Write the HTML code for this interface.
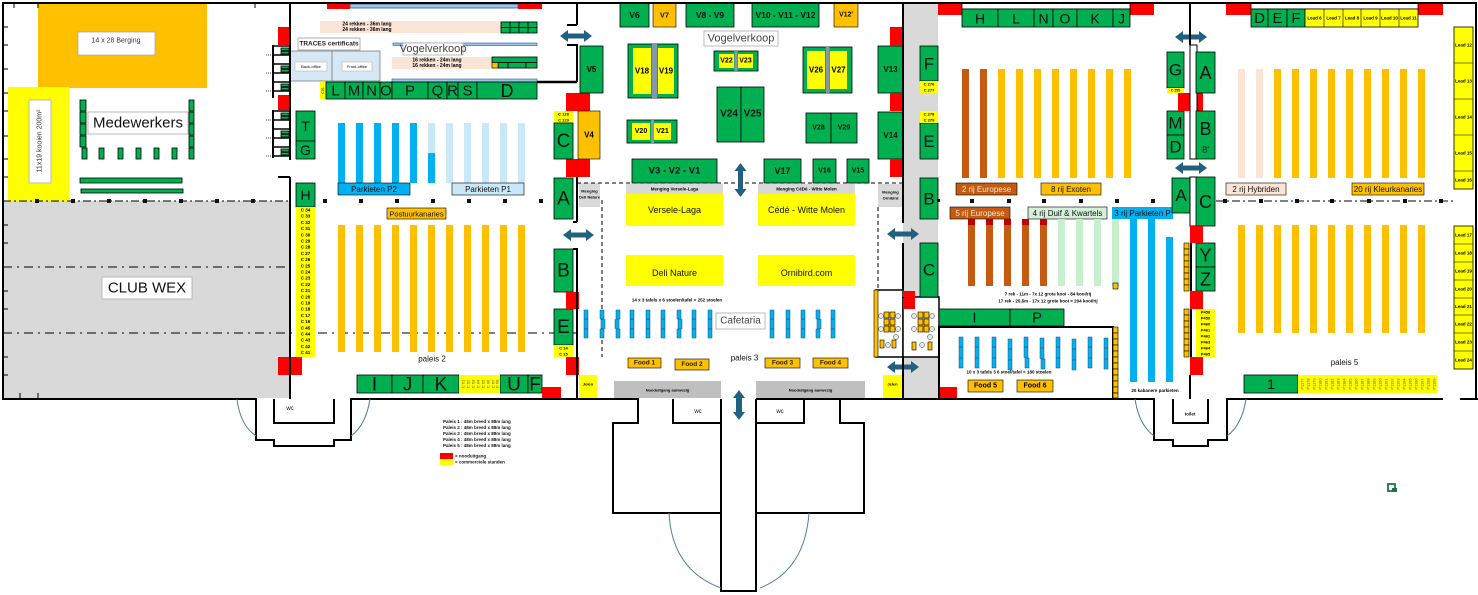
<!DOCTYPE html>
<html><head><meta charset="utf-8"><style>
html,body{margin:0;padding:0;background:#fff;}
svg{display:block;font-family:"Liberation Sans",sans-serif;}
.g{fill:#00b050;stroke:#000;stroke-width:0.8}
.o{fill:#ffc000;stroke:#000;stroke-width:0.6}
.oo{fill:#ffc000}
.y{fill:#ffff00}
.r{fill:#ff0000}
.gr{fill:#d9d9d9}
.t{text-anchor:middle;dominant-baseline:central}
.w{stroke:#000;stroke-width:2;fill:none}
.ar{fill:#22607f}
.tb{fill:#00b0f0;stroke:#1f4e79;stroke-width:0.5}
.lb{fill:#fff;stroke:#aaa;stroke-width:0.8}
</style></head><body>
<svg width="1478" height="595" viewBox="0 0 1478 595">
<!-- ===== PALAIS 1 ===== -->
<rect x="38" y="3" width="169" height="85" class="oo"/>
<rect x="78" y="32" width="77" height="23" class="lb"/>
<text x="116" y="41" font-size="7" class="t" fill="#333">14 x 28 Berging</text>
<rect x="8" y="87" width="61" height="114" class="y"/>
<rect x="29" y="100" width="22" height="83" class="lb"/>
<text transform="translate(40,141) rotate(-90)" font-size="7" class="t" fill="#333">11x19  kooien 200m²</text>
<rect x="88" y="112" width="100" height="22" class="lb"/>
<text x="138" y="123" font-size="15" class="t" fill="#111">Medewerkers</text>
<g class="g">
<rect x="80" y="100" width="6" height="11"/><rect x="80" y="112" width="6" height="11"/><rect x="80" y="124" width="6" height="11"/><rect x="80" y="136" width="6" height="11"/>
<rect x="189" y="100" width="5" height="11"/><rect x="189" y="112" width="5" height="11"/><rect x="189" y="124" width="5" height="11"/><rect x="189" y="136" width="5" height="11"/><rect x="189" y="148" width="5" height="11"/>
<rect x="82" y="148" width="5" height="11"/><rect x="99" y="148" width="5" height="11"/><rect x="118" y="148" width="5" height="11"/><rect x="136" y="148" width="5" height="11"/><rect x="154" y="148" width="5" height="11"/><rect x="172" y="148" width="5" height="11"/>
<rect x="80" y="178" width="102" height="5"/><rect x="81" y="189" width="102" height="4"/>
</g>
<rect x="3" y="201" width="287" height="197" class="gr"/>
<line x1="3" y1="201" x2="289" y2="201" stroke="#000" stroke-width="1" stroke-dasharray="8,3,2,3"/>
<g fill="#111">
<rect x="35" y="199" width="4" height="4"/><rect x="71" y="199" width="4" height="4"/><rect x="107" y="199" width="4" height="4"/><rect x="143" y="199" width="4" height="4"/><rect x="179" y="199" width="4" height="4"/><rect x="215" y="199" width="4" height="4"/><rect x="251" y="199" width="4" height="4"/>
<rect x="323" y="199" width="4" height="4"/><rect x="359" y="199" width="4" height="4"/><rect x="395" y="199" width="4" height="4"/><rect x="431" y="199" width="4" height="4"/><rect x="467" y="199" width="4" height="4"/><rect x="503" y="199" width="4" height="4"/><rect x="539" y="199" width="4" height="4"/>
<rect x="970" y="199" width="4" height="4"/><rect x="1007" y="199" width="4" height="4"/><rect x="1042" y="199" width="4" height="4"/><rect x="1079" y="199" width="4" height="4"/><rect x="1115" y="199" width="4" height="4"/><rect x="1151" y="199" width="4" height="4"/>
<rect x="1223" y="199" width="4" height="4"/><rect x="1259" y="199" width="4" height="4"/><rect x="1295" y="199" width="4" height="4"/><rect x="1330" y="199" width="4" height="4"/><rect x="1367" y="199" width="4" height="4"/><rect x="1403" y="199" width="4" height="4"/><rect x="1439" y="199" width="4" height="4"/>
</g>
<line x1="3" y1="267" x2="289" y2="267" stroke="#000" stroke-width="1" stroke-dasharray="9,5,2,5"/>
<line x1="3" y1="333" x2="577" y2="333" stroke="#000" stroke-width="1" stroke-dasharray="9,5,2,5"/>
<rect x="102" y="277" width="90" height="22" class="lb"/>
<text x="147" y="288" font-size="15" class="t" fill="#111">CLUB WEX</text>
<g stroke="#000" stroke-width="1">
<line x1="3" y1="27" x2="8" y2="27"/><line x1="3" y1="45" x2="8" y2="45"/><line x1="3" y1="69" x2="8" y2="69"/><line x1="3" y1="93" x2="8" y2="93"/><line x1="3" y1="111" x2="8" y2="111"/><line x1="3" y1="136" x2="8" y2="136"/><line x1="3" y1="159" x2="8" y2="159"/><line x1="3" y1="177" x2="8" y2="177"/><line x1="3" y1="225" x2="8" y2="225"/><line x1="3" y1="243" x2="8" y2="243"/><line x1="3" y1="291" x2="8" y2="291"/><line x1="3" y1="309" x2="8" y2="309"/><line x1="3" y1="357" x2="8" y2="357"/><line x1="3" y1="375" x2="8" y2="375"/>
<line x1="14" y1="3" x2="14" y2="8"/><line x1="38" y1="3" x2="38" y2="8"/><line x1="255" y1="3" x2="255" y2="8"/>
<line x1="20" y1="393" x2="20" y2="398"/><line x1="38" y1="393" x2="38" y2="398"/>
</g>
<!-- chair combs -->
<g>
<line x1="273" y1="45" x2="273" y2="98" stroke="#000" stroke-width="2"/>
<line x1="273" y1="110" x2="273" y2="158" stroke="#000" stroke-width="2"/>
<g stroke="#000" stroke-width="1.6">
<line x1="272" y1="46" x2="290" y2="46"/><line x1="272" y1="55" x2="290" y2="55"/><line x1="272" y1="64" x2="290" y2="64"/><line x1="272" y1="73" x2="290" y2="73"/><line x1="272" y1="82" x2="290" y2="82"/><line x1="272" y1="91" x2="290" y2="91"/>
<line x1="272" y1="111" x2="290" y2="111"/><line x1="272" y1="120" x2="290" y2="120"/><line x1="272" y1="129" x2="290" y2="129"/><line x1="272" y1="138" x2="290" y2="138"/><line x1="272" y1="147" x2="290" y2="147"/><line x1="272" y1="156" x2="290" y2="156"/>
</g>
<g stroke="#000" stroke-width="0.8" stroke-dasharray="1,1">
<line x1="266" y1="55" x2="272" y2="55"/><line x1="266" y1="73" x2="272" y2="73"/><line x1="266" y1="91" x2="272" y2="91"/>
<line x1="266" y1="120" x2="272" y2="120"/><line x1="266" y1="138" x2="272" y2="138"/><line x1="266" y1="156" x2="272" y2="156"/>
</g>
<g class="g" stroke-width="0.5">
<rect x="281" y="48" width="8" height="2.5"/><rect x="281" y="51.5" width="8" height="2.5"/><rect x="281" y="66" width="8" height="2.5"/><rect x="281" y="69.5" width="8" height="2.5"/><rect x="281" y="84" width="8" height="2.5"/><rect x="281" y="87.5" width="8" height="2.5"/>
<rect x="281" y="113" width="8" height="2.5"/><rect x="281" y="116.5" width="8" height="2.5"/><rect x="281" y="131" width="8" height="2.5"/><rect x="281" y="134.5" width="8" height="2.5"/><rect x="281" y="149" width="8" height="2.5"/><rect x="281" y="152.5" width="8" height="2.5"/>
</g>
</g>
<rect x="278" y="27" width="12" height="19" class="r"/>
<rect x="278" y="95" width="12" height="15" class="r"/>
<rect x="278" y="357" width="24" height="18" class="r"/>

<!-- ===== PALAIS 2 ===== -->
<rect x="327" y="3" width="23" height="6" class="r"/>
<rect x="518" y="3" width="24" height="6" class="r"/>
<rect x="350" y="4" width="168" height="4" fill="#9dc3e6" stroke="#2f5597" stroke-width="0.8"/>
<rect x="320" y="21" width="217" height="12" fill="#fce4d6"/>
<text x="367" y="24.5" font-size="5" font-weight="bold" class="t">24 rekken - 36m lang</text>
<text x="367" y="30" font-size="5" font-weight="bold" class="t">24 rekken - 36m lang</text>
<g class="g" stroke-width="0.5">
<rect x="501" y="22" width="9" height="5.5"/><rect x="510" y="22" width="9" height="5.5"/><rect x="519" y="22" width="9" height="5.5"/><rect x="528" y="22" width="9" height="5.5"/>
<rect x="501" y="27.5" width="9" height="5.5"/><rect x="510" y="27.5" width="9" height="5.5"/><rect x="519" y="27.5" width="9" height="5.5"/><rect x="528" y="27.5" width="9" height="5.5"/>
</g>
<rect x="298" y="38" width="62" height="12" fill="#fff" stroke="#999" stroke-width="0.8"/>
<text x="329" y="44" font-size="6.5" font-weight="bold" class="t" fill="#222">TRACES certificats</text>
<rect x="290" y="51" width="90" height="30" fill="#d6e8f6" stroke="#555" stroke-width="0.6"/>
<line x1="332" y1="51" x2="332" y2="81" stroke="#555" stroke-width="0.6"/>
<rect x="295" y="62" width="32" height="9" fill="#fff" stroke="#aaa" stroke-width="0.5"/>
<text x="311" y="66.5" font-size="4" class="t">Back-office</text>
<rect x="342" y="62" width="30" height="9" fill="#fff" stroke="#aaa" stroke-width="0.5"/>
<text x="357" y="66.5" font-size="4" class="t">Front-office</text>
<rect x="393" y="43" width="144" height="2.5" fill="#9dc3e6" stroke="#2f5597" stroke-width="0.6"/>
<rect x="403" y="43" width="60" height="12" class="lb"/>
<text x="433" y="49" font-size="11" class="t" fill="#444">Vogelverkoop</text>
<rect x="392" y="57" width="145" height="12" fill="#fce4d6"/>
<text x="437" y="60.5" font-size="5" font-weight="bold" class="t">16 rekken - 24m lang</text>
<text x="437" y="66" font-size="5" font-weight="bold" class="t">16 rekken - 24m lang</text>
<g class="g" stroke-width="0.5">
<rect x="492" y="57" width="45" height="5.5"/>
<rect x="498" y="62.5" width="10" height="5.5"/><rect x="508" y="62.5" width="18" height="5.5"/><rect x="526" y="62.5" width="11" height="5.5"/>
</g>
<rect x="492" y="62.5" width="6" height="5.5" class="o" stroke-width="0.5"/>
<rect x="392" y="79" width="145" height="3" fill="#9dc3e6" stroke="#2f5597" stroke-width="0.6"/>
<!-- LMNOP row -->
<rect x="320" y="82" width="6" height="17" class="y"/>
<text transform="translate(323,90.5) rotate(-90)" font-size="3.5" class="t">C31</text>
<g class="g">
<rect x="326" y="82" width="19" height="17"/><rect x="345" y="82" width="18" height="17"/><rect x="363" y="82" width="17" height="17"/><rect x="380" y="82" width="12" height="17"/><rect x="392" y="82" width="36" height="17"/><rect x="428" y="82" width="19" height="17"/><rect x="447" y="82" width="11" height="17"/><rect x="458" y="82" width="19" height="17"/><rect x="477" y="82" width="60" height="17"/>
</g>
<g font-size="15" class="t" fill="#111">
<text x="335.5" y="91">L</text><text x="354" y="91">M</text><text x="371.5" y="91">N</text><text x="386" y="91">O</text><text x="410" y="91">P</text><text x="437.5" y="91">Q</text><text x="452.5" y="91">R</text><text x="467.5" y="91">S</text><text x="507" y="91" font-size="18">D</text>
</g>
<g class="g"><rect x="296" y="111" width="19" height="30"/><rect x="296" y="141" width="19" height="18"/><rect x="296" y="183" width="19" height="24"/></g>
<g font-size="14" class="t" fill="#111"><text x="305.5" y="126">T</text><text x="305.5" y="150">G</text><text x="305.5" y="195">H</text></g>
<rect x="296" y="207" width="19" height="150" class="y"/>
<g font-size="4.5" font-weight="bold" class="t">
<text x="305.5" y="210">C 34</text><text x="305.5" y="216.2">C 33</text><text x="305.5" y="222.4">C 32</text><text x="305.5" y="228.6">C 31</text><text x="305.5" y="234.8">C 30</text><text x="305.5" y="241">C 29</text><text x="305.5" y="247.2">C 28</text><text x="305.5" y="253.4">C 27</text><text x="305.5" y="259.6">C 26</text><text x="305.5" y="265.8">C 25</text><text x="305.5" y="272">C 24</text><text x="305.5" y="278.2">C 23</text><text x="305.5" y="284.4">C 22</text><text x="305.5" y="290.6">C 21</text><text x="305.5" y="296.8">C 20</text><text x="305.5" y="303">C 19</text><text x="305.5" y="309.2">C 18</text><text x="305.5" y="315.4">C 17</text><text x="305.5" y="321.6">C 16</text><text x="305.5" y="327.8">C 45</text><text x="305.5" y="334">C 44</text><text x="305.5" y="340.2">C 43</text><text x="305.5" y="346.4">C 42</text><text x="305.5" y="352.6">C 41</text>
</g>
<!-- parkiet bars -->
<g fill="#00b0f0"><rect x="338" y="123" width="7" height="60"/><rect x="356" y="123" width="7" height="60"/><rect x="374" y="123" width="7" height="60"/><rect x="392" y="123" width="7" height="60"/><rect x="410" y="123" width="7" height="60"/></g>
<g fill="#c9e8f8"><rect x="428" y="123" width="7" height="30"/><rect x="446" y="123" width="7" height="60"/><rect x="464" y="123" width="7" height="60"/><rect x="482" y="123" width="7" height="60"/><rect x="500" y="123" width="7" height="60"/><rect x="518" y="123" width="7" height="60"/></g>
<rect x="428" y="153" width="7" height="30" fill="#00b0f0"/>
<rect x="338" y="183" width="72" height="12" fill="#00b0f0" stroke="#000" stroke-width="0.6"/>
<text x="374" y="189.5" font-size="8" class="t" fill="#111">Parkieten P2</text>
<rect x="452" y="183" width="72" height="12" fill="#c9e8f8" stroke="#000" stroke-width="0.6"/>
<text x="488" y="189.5" font-size="8" class="t" fill="#111">Parkieten P1</text>
<rect x="387" y="208" width="59" height="11" class="o"/>
<text x="416.5" y="214" font-size="7.5" class="t" fill="#111">Postuurkanaries</text>
<g class="oo"><rect x="338" y="225" width="7" height="127"/><rect x="356" y="225" width="7" height="127"/><rect x="374" y="225" width="7" height="127"/><rect x="392" y="225" width="7" height="127"/><rect x="410" y="225" width="7" height="127"/><rect x="428" y="225" width="7" height="127"/><rect x="446" y="225" width="7" height="127"/><rect x="464" y="225" width="7" height="127"/><rect x="482" y="225" width="7" height="127"/><rect x="500" y="225" width="7" height="127"/><rect x="518" y="225" width="7" height="127"/></g>
<text x="432" y="359" font-size="8" class="t" fill="#111">paleis 2</text>
<g class="g"><rect x="357" y="375" width="35" height="18"/><rect x="392" y="375" width="31" height="18"/><rect x="423" y="375" width="36" height="18"/><rect x="500" y="375" width="28" height="18"/><rect x="528" y="375" width="14" height="18"/></g>
<rect x="459" y="375" width="41" height="18" class="y"/>
<g font-size="4" fill="#555">
<text transform="translate(463,384) rotate(-90)" class="t">C 61</text><text transform="translate(468,384) rotate(-90)" class="t">C 62</text><text transform="translate(473,384) rotate(-90)" class="t">C 63</text><text transform="translate(478,384) rotate(-90)" class="t">C 64</text><text transform="translate(483,384) rotate(-90)" class="t">C 65</text><text transform="translate(488,384) rotate(-90)" class="t">C 66</text><text transform="translate(493,384) rotate(-90)" class="t">C 67</text><text transform="translate(497,384) rotate(-90)" class="t">C 68</text>
</g>
<g font-size="19" class="t" fill="#111"><text x="374.5" y="385">I</text><text x="407.5" y="385">J</text><text x="441" y="385">K</text><text x="514" y="385">U</text><text x="535" y="385">F</text></g>
<rect x="542" y="387" width="19" height="11" class="r"/>
<!-- right side palais 2 -->
<rect x="566" y="93" width="24" height="18" class="r"/>
<rect x="566" y="159" width="24" height="18" class="r"/>
<rect x="554" y="111" width="19" height="12" class="y"/>
<text x="563.5" y="114" font-size="4" font-weight="bold" class="t">C 128</text><text x="563.5" y="120" font-size="4" font-weight="bold" class="t">C 129</text>
<g class="g"><rect x="554" y="123" width="19" height="36"/><rect x="554" y="178" width="19" height="41"/><rect x="554" y="249" width="19" height="43"/><rect x="554" y="309" width="19" height="36"/></g>
<g font-size="19" class="t" fill="#111"><text x="563.5" y="141.5">C</text><text x="563.5" y="199">A</text><text x="563.5" y="271">B</text><text x="563.5" y="327.5">E</text></g>
<rect x="578" y="111" width="22" height="48" class="o"/>
<text x="589" y="135" font-size="8" font-weight="bold" class="t">V4</text>
<rect x="579" y="183" width="21" height="24" class="gr"/>
<text x="589.5" y="191" font-size="4" font-weight="bold" class="t">Menging</text><text x="589.5" y="197" font-size="4" font-weight="bold" class="t">Deli Nature</text>
<rect x="566" y="292" width="13" height="17" class="r"/>
<rect x="554" y="345" width="19" height="12" class="y"/>
<text x="563.5" y="348" font-size="4" font-weight="bold" class="t">C 14</text><text x="563.5" y="354" font-size="4" font-weight="bold" class="t">C 15</text>
<rect x="566" y="357" width="13" height="18" class="r"/>
<rect x="579" y="375" width="18" height="23" class="y"/>
<text x="588" y="384" font-size="4" font-weight="bold" class="t">Jelen</text>
<rect x="580" y="46" width="23" height="47" class="g"/>
<text x="591.5" y="69.5" font-size="8" font-weight="bold" class="t">V5</text>

<!-- ===== PALAIS 3 ===== -->
<line x1="577" y1="183" x2="903" y2="183" stroke="#000" stroke-width="1" stroke-dasharray="4,3"/>
<line x1="602" y1="200" x2="602" y2="357" stroke="#000" stroke-width="1" stroke-dasharray="4,3"/>
<line x1="878" y1="207" x2="878" y2="290" stroke="#000" stroke-width="1" stroke-dasharray="4,3"/>
<g class="g"><rect x="620" y="3" width="29" height="24"/><rect x="686" y="3" width="48" height="24"/><rect x="752" y="3" width="67" height="24"/></g>
<rect x="653" y="3" width="23" height="24" class="o"/><rect x="834" y="3" width="24" height="24" class="o"/>
<g font-size="8.5" font-weight="bold" class="t" fill="#111">
<text x="634.5" y="15">V6</text><text x="664.5" y="15" font-size="7.5">V7</text><text x="710" y="15">V8 - V9</text><text x="785.5" y="15">V10 - V11 - V12</text><text x="846" y="15" font-size="7">V12'</text>
</g>
<rect x="704" y="31" width="74" height="15" class="lb"/>
<text x="741" y="38.5" font-size="11" class="t" fill="#444">Vogelverkoop</text>
<!-- V18/V19 -->
<rect x="628" y="44" width="50" height="54" class="g"/>
<rect x="633" y="48" width="18" height="46" class="y"/><rect x="658" y="48" width="16" height="46" class="y"/>
<rect x="652" y="44" width="5" height="54" fill="#8497b0"/>
<text x="642" y="71" font-size="8" font-weight="bold" class="t">V18</text><text x="666" y="71" font-size="8" font-weight="bold" class="t">V19</text>
<!-- V22/V23 -->
<rect x="714" y="51" width="44" height="20" class="g"/>
<rect x="719" y="54" width="15" height="14" class="y"/><rect x="738" y="54" width="15" height="14" class="y"/>
<rect x="734.5" y="51" width="3" height="20" fill="#8497b0"/>
<text x="726.5" y="61" font-size="7" font-weight="bold" class="t">V22</text><text x="745.5" y="61" font-size="7" font-weight="bold" class="t">V23</text>
<!-- V26/V27 -->
<rect x="803" y="47" width="49" height="46" class="g"/>
<rect x="807" y="51" width="18" height="38" class="y"/><rect x="830" y="51" width="17" height="38" class="y"/>
<rect x="826" y="47" width="3.5" height="46" fill="#8497b0"/>
<text x="816" y="70" font-size="8" font-weight="bold" class="t">V26</text><text x="838.5" y="70" font-size="8" font-weight="bold" class="t">V27</text>
<!-- V20/V21 -->
<rect x="627" y="120" width="50" height="23" class="g"/>
<rect x="632" y="123" width="18" height="17" class="y"/><rect x="654" y="123" width="17" height="17" class="y"/>
<rect x="651" y="120" width="3" height="23" fill="#8497b0"/>
<text x="641" y="131.5" font-size="7" font-weight="bold" class="t">V20</text><text x="662.5" y="131.5" font-size="7" font-weight="bold" class="t">V21</text>
<g class="g"><rect x="717" y="87" width="24" height="55"/><rect x="741" y="87" width="23" height="55"/><rect x="806" y="113" width="25" height="30"/><rect x="831" y="113" width="26" height="30"/><rect x="878" y="46" width="25" height="47"/><rect x="878" y="112" width="25" height="47"/>
<rect x="632" y="159" width="85" height="24"/><rect x="764" y="159" width="37" height="24"/><rect x="813" y="159" width="23" height="24"/><rect x="847" y="159" width="22" height="24"/></g>
<g font-weight="bold" class="t" fill="#111">
<text x="729" y="114" font-size="10">V24</text><text x="752.5" y="114" font-size="10">V25</text>
<text x="818.5" y="128" font-size="7">V28</text><text x="844" y="128" font-size="7">V29</text>
<text x="890.5" y="69.5" font-size="8">V13</text><text x="890.5" y="135.5" font-size="8">V14</text>
<text x="674.5" y="171" font-size="9.5">V3 - V2 - V1</text><text x="782.5" y="171" font-size="9">V17</text><text x="824.5" y="171" font-size="7">V16</text><text x="858" y="171" font-size="7">V15</text>
</g>
<rect x="890" y="27" width="23" height="19" class="r"/><rect x="890" y="93" width="23" height="18" class="r"/><rect x="890" y="159" width="23" height="18" class="r"/>
<rect x="626" y="184" width="97" height="10" class="gr"/><rect x="626" y="194" width="97" height="32" class="y"/>
<rect x="758" y="184" width="97" height="10" class="gr"/><rect x="758" y="194" width="97" height="32" class="y"/>
<rect x="626" y="255" width="97" height="31" class="y"/><rect x="758" y="255" width="97" height="31" class="y"/>
<text x="674.5" y="189" font-size="4.5" font-weight="bold" class="t">Menging Versele-Laga</text>
<text x="806.5" y="189" font-size="4.5" font-weight="bold" class="t">Menging CéDé - Witte Molen</text>
<g font-size="9" class="t" fill="#111"><text x="674.5" y="210">Versele-Laga</text><text x="806.5" y="210">Cédé - Witte Molen</text><text x="674.5" y="273">Deli Nature</text><text x="806.5" y="273">Ornibird.com</text></g>
<text x="677" y="300" font-size="4.5" font-weight="bold" class="t">14 x 3 tafels x 6 stoelen/tafel = 252 stoelen</text>
<g class="tb">
<rect x="584" y="310" width="4" height="9"/><rect x="584" y="319.5" width="4" height="9"/><rect x="584" y="329" width="4" height="9"/>
<rect x="600" y="310" width="4" height="9"/><rect x="601" y="319.5" width="4" height="9"/><rect x="600" y="329" width="4" height="9"/>
<rect x="616" y="310" width="4" height="9"/><rect x="615" y="319.5" width="4" height="9"/><rect x="616" y="329" width="4" height="9"/>
<rect x="630" y="310" width="4" height="9"/><rect x="630" y="319.5" width="4" height="9"/><rect x="630" y="329" width="4" height="9"/>
<rect x="646" y="310" width="4" height="9"/><rect x="646" y="319.5" width="4" height="9"/><rect x="646" y="329" width="4" height="9"/>
<rect x="661" y="310" width="4" height="9"/><rect x="661" y="319.5" width="4" height="9"/><rect x="661" y="329" width="4" height="9"/>
<rect x="677" y="310" width="4" height="9"/><rect x="678" y="319.5" width="4" height="9"/><rect x="677" y="329" width="4" height="9"/>
<rect x="692" y="310" width="4" height="9"/><rect x="692" y="319.5" width="4" height="9"/><rect x="692" y="329" width="4" height="9"/>
<rect x="708" y="310" width="4" height="9"/><rect x="708" y="319.5" width="4" height="9"/><rect x="708" y="329" width="4" height="9"/>
<rect x="770" y="310" width="4" height="9"/><rect x="770" y="319.5" width="4" height="9"/><rect x="770" y="329" width="4" height="9"/>
<rect x="786" y="310" width="4" height="9"/><rect x="786" y="319.5" width="4" height="9"/><rect x="786" y="329" width="4" height="9"/>
<rect x="801" y="310" width="4" height="9"/><rect x="801" y="319.5" width="4" height="9"/><rect x="801" y="329" width="4" height="9"/>
<rect x="816" y="310" width="4" height="9"/><rect x="817" y="319.5" width="4" height="9"/><rect x="816" y="329" width="4" height="9"/>
<rect x="831" y="310" width="4" height="9"/><rect x="831" y="319.5" width="4" height="9"/><rect x="831" y="329" width="4" height="9"/>
</g>
<rect x="716" y="313" width="49" height="16" class="lb"/>
<text x="740.5" y="321" font-size="10" class="t" fill="#444">Cafetaria</text>
<text x="744.5" y="358" font-size="8" class="t" fill="#111">paleis 3</text>
<g class="o"><rect x="628" y="358" width="33" height="10"/><rect x="675" y="359" width="34" height="11"/><rect x="765" y="358" width="35" height="10"/><rect x="813" y="358" width="35" height="10"/></g>
<g font-size="6.5" font-weight="bold" class="t" fill="#222"><text x="644.5" y="363">Food 1</text><text x="692" y="364.5">Food 2</text><text x="782.5" y="363">Food 3</text><text x="830.5" y="363">Food 4</text></g>
<rect x="614" y="381" width="107" height="17" fill="#bfbfbf"/><rect x="756" y="381" width="109" height="17" fill="#bfbfbf"/>
<text x="667.5" y="390" font-size="4" font-weight="bold" class="t">Nooduitgang aanwezig</text>
<text x="810.5" y="390" font-size="4" font-weight="bold" class="t">Nooduitgang aanwezig</text>
<!-- cafe small boxes -->
<rect x="903" y="3" width="35" height="395" class="gr"/>
<rect x="876" y="290" width="27" height="67" fill="#fff" stroke="#000" stroke-width="1.5"/>
<rect x="903" y="297" width="36" height="60" fill="#fff" stroke="#000" stroke-width="1.5"/>
<rect x="874" y="290" width="4" height="67" class="o"/>
<rect x="903" y="291" width="12" height="6" class="r"/><rect x="903" y="298" width="12" height="11" class="r"/>
<g class="o" stroke-width="0.5">
<rect x="884" y="312" width="5" height="6"/><rect x="890" y="312" width="5" height="6"/><rect x="884" y="319" width="5" height="6"/><rect x="890" y="319" width="5" height="6"/><rect x="884" y="326" width="5" height="6"/><rect x="890" y="326" width="5" height="6"/><rect x="880" y="340" width="4" height="8"/><rect x="892" y="340" width="4" height="8"/>
<rect x="918" y="312" width="5" height="6"/><rect x="924" y="312" width="5" height="6"/><rect x="918" y="319" width="5" height="6"/><rect x="924" y="319" width="5" height="6"/><rect x="918" y="326" width="5" height="6"/><rect x="924" y="326" width="5" height="6"/><rect x="912" y="342" width="4" height="8"/><rect x="928" y="342" width="4" height="8"/>
</g>
<g fill="#e8e8e8" stroke="#333" stroke-width="0.5">
<circle cx="881" cy="316" r="2.5"/><circle cx="898" cy="316" r="2.5"/><circle cx="881" cy="329" r="2.5"/><circle cx="898" cy="329" r="2.5"/><circle cx="888" cy="345" r="2.5"/><circle cx="896" cy="337" r="2.5"/>
<circle cx="914" cy="316" r="2.5"/><circle cx="932" cy="316" r="2.5"/><circle cx="914" cy="329" r="2.5"/><circle cx="932" cy="329" r="2.5"/><circle cx="922" cy="345" r="2.5"/><circle cx="930" cy="337" r="2.5"/>
</g>
<rect x="883" y="375" width="19" height="23" class="y"/>
<text x="892.5" y="384" font-size="4" font-weight="bold" class="t">Jelen</text>
<!-- corridor boxes -->
<g class="g"><rect x="920" y="46" width="18" height="35"/><rect x="920" y="123" width="18" height="36"/><rect x="920" y="178" width="18" height="41"/><rect x="920" y="243" width="18" height="54"/></g>
<rect x="920" y="81" width="18" height="12" class="y"/><rect x="920" y="111" width="18" height="12" class="y"/>
<g font-size="4" font-weight="bold" class="t"><text x="929" y="84">C 276</text><text x="929" y="90">C 277</text><text x="929" y="114">C 278</text><text x="929" y="120">C 279</text></g>
<g font-size="17" class="t" fill="#111"><text x="929" y="64">F</text><text x="929" y="141.5">E</text><text x="929" y="199">B</text><text x="929" y="270">C</text></g>
<rect x="937" y="199" width="3" height="3" fill="#000"/>
<rect x="878" y="184" width="25" height="23" class="gr"/>
<text x="890.5" y="192" font-size="4" font-weight="bold" class="t">Menging</text><text x="890.5" y="198" font-size="4" font-weight="bold" class="t">Ornibird</text>

<!-- ===== PALAIS 4 ===== -->
<rect x="938" y="3" width="24" height="12" class="r"/><rect x="1130" y="3" width="24" height="12" class="r"/>
<rect x="962" y="3" width="168" height="6" fill="#fff" stroke="#000" stroke-width="0.8"/>
<g class="g"><rect x="962" y="9" width="36" height="18"/><rect x="998" y="9" width="36" height="18"/><rect x="1034" y="9" width="19" height="18"/><rect x="1053" y="9" width="24" height="18"/><rect x="1077" y="9" width="36" height="18"/><rect x="1113" y="9" width="17" height="18"/></g>
<g font-size="14" class="t" fill="#111"><text x="980" y="18.5">H</text><text x="1016" y="18.5">L</text><text x="1043.5" y="18.5">N</text><text x="1065" y="18.5">O</text><text x="1095" y="18.5">K</text><text x="1121.5" y="18.5">J</text></g>
<g fill="#c55a11"><rect x="962" y="69" width="7" height="109"/><rect x="980" y="69" width="7" height="109"/></g>
<g class="oo"><rect x="998" y="69" width="7" height="109"/><rect x="1016" y="69" width="7" height="109"/><rect x="1034" y="69" width="7" height="109"/><rect x="1052" y="69" width="7" height="109"/><rect x="1070" y="69" width="7" height="109"/><rect x="1088" y="69" width="7" height="109"/><rect x="1106" y="69" width="7" height="109"/><rect x="1124" y="69" width="7" height="109"/></g>
<rect x="956" y="183" width="61" height="12" fill="#c55a11" stroke="#000" stroke-width="0.6"/>
<text x="986.5" y="189.5" font-size="8" class="t" fill="#fbe5d6">2 rij Europese</text>
<rect x="1041" y="183" width="60" height="12" class="o"/>
<text x="1071" y="189.5" font-size="8" class="t" fill="#111">8 rij Exoten</text>
<rect x="950" y="207" width="60" height="12" fill="#c55a11" stroke="#000" stroke-width="0.6"/>
<text x="980" y="213.5" font-size="8" class="t" fill="#fbe5d6">5 rij Europese</text>
<rect x="1028" y="207" width="79" height="12" fill="#d5f0d9" stroke="#000" stroke-width="0.6"/>
<text x="1067.5" y="213.5" font-size="8" class="t" fill="#111">4 rij Duif &amp; Kwartels</text>
<rect x="1112" y="207" width="61" height="12" fill="#00b0f0"/>
<text x="1142.5" y="213.5" font-size="8" class="t" fill="#111">3 rij Parkieten P</text>
<g fill="#c55a11"><rect x="968" y="219" width="7" height="67"/><rect x="986" y="219" width="7" height="67"/><rect x="1004" y="219" width="7" height="67"/><rect x="1022" y="219" width="7" height="67"/><rect x="1040" y="219" width="7" height="67"/></g>
<g fill="#c00000"><rect x="968" y="219" width="7" height="6"/><rect x="986" y="219" width="7" height="6"/><rect x="1004" y="219" width="7" height="6"/><rect x="1022" y="219" width="7" height="6"/><rect x="1040" y="219" width="7" height="6"/></g>
<g fill="#c6efce"><rect x="1058" y="219" width="7" height="67"/><rect x="1076" y="219" width="7" height="67"/><rect x="1094" y="219" width="7" height="67"/><rect x="1112" y="219" width="7" height="67"/></g>
<g fill="#00b0f0"><rect x="1130" y="219" width="7" height="163"/><rect x="1148" y="219" width="7" height="163"/><rect x="1166" y="237" width="7" height="145"/></g>
<text x="1048" y="294" font-size="4.5" font-weight="bold" class="t">7 rek - 11m - 7x 12 grote kooi - 84 kooi/rij</text>
<text x="1048" y="301" font-size="4.5" font-weight="bold" class="t">17 rek - 25,5m - 17x 12 grote kooi = 204 kooi/rij</text>
<g class="g"><rect x="939" y="309" width="71" height="17"/><rect x="1010" y="309" width="54" height="17"/></g>
<text x="974.5" y="318" font-size="15" class="t" fill="#111">I</text><text x="1037" y="318" font-size="15" class="t" fill="#111">P</text>
<g class="tb">
<rect x="959" y="337" width="4" height="10"/><rect x="959" y="347.5" width="4" height="10"/><rect x="959" y="358" width="4" height="10"/>
<rect x="975" y="337" width="4" height="10"/><rect x="975" y="347.5" width="4" height="10"/><rect x="975" y="358" width="4" height="10"/>
<rect x="992" y="337" width="4" height="10"/><rect x="992" y="347.5" width="4" height="10"/><rect x="992" y="358" width="4" height="10"/>
<rect x="1008" y="339" width="4" height="10"/><rect x="1008" y="349.5" width="4" height="10"/><rect x="1008" y="360" width="4" height="10"/>
<rect x="1024" y="337" width="4" height="10"/><rect x="1024" y="347.5" width="4" height="10"/><rect x="1025" y="358" width="4" height="10"/>
<rect x="1040" y="338" width="4" height="10"/><rect x="1040" y="348.5" width="4" height="10"/><rect x="1041" y="359" width="4" height="10"/>
<rect x="1056" y="337" width="4" height="10"/><rect x="1056" y="347.5" width="4" height="10"/><rect x="1056" y="358" width="4" height="10"/>
<rect x="1072" y="339" width="4" height="10"/><rect x="1072" y="349.5" width="4" height="10"/><rect x="1072" y="360" width="4" height="10"/>
<rect x="1088" y="337" width="4" height="10"/><rect x="1088" y="347.5" width="4" height="10"/><rect x="1088" y="358" width="4" height="10"/>
<rect x="1104" y="338" width="4" height="10"/><rect x="1104" y="348.5" width="4" height="10"/><rect x="1104" y="359" width="4" height="10"/>
</g>
<text x="1009" y="372" font-size="4.5" font-weight="bold" class="t">10 x 3 tafels 3 6 stoel/tafel = 180 stoelen</text>
<g class="o"><rect x="968" y="380" width="35" height="12"/><rect x="1017" y="380" width="36" height="12"/></g>
<text x="985.5" y="386" font-size="7" font-weight="bold" class="t">Food 5</text><text x="1035" y="386" font-size="7" font-weight="bold" class="t">Food 6</text>
<rect x="939" y="387" width="18" height="11" class="r"/>
<path d="M939,398 V327 H1113 V398" fill="none" stroke="#000" stroke-width="2"/>
<g class="o" stroke-width="0.4">
<rect x="1113" y="283" width="5" height="6"/><rect x="1113" y="327" width="5" height="6"/><rect x="1113" y="333" width="5" height="6"/><rect x="1113" y="339" width="5" height="6"/><rect x="1113" y="345" width="5" height="6"/><rect x="1113" y="351" width="5" height="6"/><rect x="1113" y="357" width="5" height="6"/><rect x="1113" y="363" width="5" height="6"/><rect x="1113" y="369" width="5" height="6"/><rect x="1113" y="375" width="5" height="6"/><rect x="1113" y="381" width="5" height="6"/><rect x="1113" y="387" width="5" height="6"/><rect x="1113" y="393" width="5" height="5"/>
</g>
<text x="1155" y="390.5" font-size="4.5" font-weight="bold" class="t">20 kabanere parkieten</text>
<!-- right edge palais 4 -->
<g class="g"><rect x="1167" y="52" width="17" height="36"/><rect x="1167" y="111" width="17" height="24"/><rect x="1167" y="135" width="17" height="24"/><rect x="1172" y="178" width="18" height="35"/></g>
<rect x="1167" y="88" width="17" height="5" class="y"/>
<text x="1175.5" y="90.5" font-size="3.5" font-weight="bold" class="t">C 255</text>
<g font-size="17" class="t" fill="#111"><text x="1175.5" y="70">G</text><text x="1175.5" y="123">M</text><text x="1175.5" y="147">D</text><text x="1181" y="195.5">A</text></g>
<rect x="1178" y="93" width="25" height="18" class="r"/>
<rect x="1190" y="45" width="7" height="114" fill="#fff" stroke="#000" stroke-width="1"/>
<rect x="1190" y="177" width="7" height="49" fill="#fff" stroke="#000" stroke-width="1"/>

<!-- ===== PALAIS 5 ===== -->
<rect x="1226" y="3" width="25" height="12" class="r"/><rect x="1418" y="3" width="25" height="12" class="r"/>
<rect x="1251" y="3" width="167" height="6" fill="#fff" stroke="#000" stroke-width="0.8"/>
<g class="g"><rect x="1196" y="52" width="19" height="41"/><rect x="1196" y="111" width="19" height="48"/><rect x="1196" y="177" width="19" height="49"/><rect x="1196" y="243" width="19" height="24"/><rect x="1196" y="267" width="19" height="24"/>
<rect x="1251" y="9" width="17" height="18"/><rect x="1268" y="9" width="19" height="18"/><rect x="1287" y="9" width="18" height="18"/></g>
<g font-size="18" class="t" fill="#111"><text x="1205.5" y="73">A</text><text x="1205.5" y="129">B</text><text x="1205.5" y="202">C</text><text x="1205.5" y="255.5">Y</text><text x="1205.5" y="279.5">Z</text></g>
<text x="1205.5" y="150" font-size="8" class="t" fill="#111">B'</text>
<g font-size="15" class="t" fill="#111"><text x="1259.5" y="18.5">D</text><text x="1277.5" y="18.5">E</text><text x="1296" y="18.5">F</text></g>
<rect x="1305" y="9" width="113" height="18" fill="#ffff00" stroke="#000" stroke-width="0.8"/>
<g stroke="#000" stroke-width="0.6"><line x1="1324" y1="9" x2="1324" y2="27"/><line x1="1343" y1="9" x2="1343" y2="27"/><line x1="1361" y1="9" x2="1361" y2="27"/><line x1="1380" y1="9" x2="1380" y2="27"/><line x1="1399" y1="9" x2="1399" y2="27"/></g>
<g font-size="4.5" font-weight="bold" class="t"><text x="1314.5" y="18">Lead 6</text><text x="1333.5" y="18">Lead 7</text><text x="1352" y="18">Lead 8</text><text x="1370.5" y="18">Lead 9</text><text x="1389.5" y="18">Lead 10</text><text x="1408.5" y="18">Lead 11</text></g>
<rect x="1454" y="27" width="19" height="162" fill="#ffff00" stroke="#000" stroke-width="0.8"/>
<g stroke="#000" stroke-width="0.6"><line x1="1454" y1="63" x2="1473" y2="63"/><line x1="1454" y1="99" x2="1473" y2="99"/><line x1="1454" y1="135" x2="1473" y2="135"/><line x1="1454" y1="171" x2="1473" y2="171"/></g>
<g font-size="4.5" font-weight="bold" class="t"><text x="1463.5" y="45">Lead 12</text><text x="1463.5" y="81">Lead 13</text><text x="1463.5" y="117">Lead 14</text><text x="1463.5" y="153">Lead 15</text><text x="1463.5" y="180">Lead 16</text></g>
<rect x="1454" y="226" width="19" height="143" fill="#ffff00" stroke="#000" stroke-width="0.8"/>
<g stroke="#000" stroke-width="0.6"><line x1="1454" y1="244" x2="1473" y2="244"/><line x1="1454" y1="262" x2="1473" y2="262"/><line x1="1454" y1="280" x2="1473" y2="280"/><line x1="1454" y1="298" x2="1473" y2="298"/><line x1="1454" y1="315" x2="1473" y2="315"/><line x1="1454" y1="333" x2="1473" y2="333"/><line x1="1454" y1="351" x2="1473" y2="351"/></g>
<g font-size="4.5" font-weight="bold" class="t"><text x="1463.5" y="235">Lead 17</text><text x="1463.5" y="253">Lead 18</text><text x="1463.5" y="271">Lead 19</text><text x="1463.5" y="289">Lead 20</text><text x="1463.5" y="306.5">Lead 21</text><text x="1463.5" y="324">Lead 22</text><text x="1463.5" y="342">Lead 23</text><text x="1463.5" y="360">Lead 24</text></g>
<g fill="#fce4d6"><rect x="1238" y="69" width="7" height="109"/><rect x="1256" y="69" width="7" height="109"/></g>
<g class="oo"><rect x="1274" y="69" width="7" height="109"/><rect x="1292" y="69" width="7" height="109"/><rect x="1310" y="69" width="7" height="109"/><rect x="1328" y="69" width="7" height="109"/><rect x="1346" y="69" width="7" height="109"/><rect x="1364" y="69" width="7" height="109"/><rect x="1382" y="69" width="7" height="109"/><rect x="1400" y="69" width="7" height="109"/><rect x="1418" y="69" width="7" height="109"/>
<rect x="1238" y="225" width="7" height="108"/><rect x="1256" y="225" width="7" height="108"/><rect x="1274" y="225" width="7" height="108"/><rect x="1292" y="225" width="7" height="108"/><rect x="1310" y="225" width="7" height="108"/><rect x="1328" y="225" width="7" height="108"/><rect x="1346" y="225" width="7" height="108"/><rect x="1364" y="225" width="7" height="108"/><rect x="1382" y="225" width="7" height="108"/><rect x="1400" y="225" width="7" height="108"/><rect x="1418" y="225" width="7" height="108"/></g>
<rect x="1226" y="183" width="60" height="12" fill="#fce4d6" stroke="#000" stroke-width="0.6"/>
<text x="1256" y="189.5" font-size="8" class="t" fill="#111">2 rij Hybriden</text>
<rect x="1352" y="183" width="72" height="12" class="o"/>
<text x="1388" y="189.5" font-size="8" class="t" fill="#111">20 rij Kleurkanaries</text>
<line x1="1216" y1="201" x2="1455" y2="201" stroke="#000" stroke-width="1" stroke-dasharray="8,3,2,3"/>
<rect x="1190" y="226" width="13" height="17" class="r"/><rect x="1190" y="291" width="13" height="18" class="r"/><rect x="1190" y="357" width="13" height="18" class="r"/>
<g class="o" stroke-width="0.4">
<rect x="1184" y="243" width="5" height="6"/><rect x="1184" y="249" width="5" height="6"/><rect x="1184" y="255" width="5" height="6"/><rect x="1184" y="261" width="5" height="6"/><rect x="1184" y="267" width="5" height="6"/><rect x="1184" y="273" width="5" height="6"/><rect x="1184" y="279" width="5" height="6"/><rect x="1184" y="285" width="5" height="6"/>
<rect x="1184" y="309" width="5" height="6"/><rect x="1184" y="315" width="5" height="6"/><rect x="1184" y="321" width="5" height="6"/><rect x="1184" y="327" width="5" height="6"/><rect x="1184" y="333" width="5" height="6"/><rect x="1184" y="339" width="5" height="6"/><rect x="1184" y="345" width="5" height="6"/><rect x="1184" y="351" width="5" height="6"/>
</g>
<rect x="1196" y="309" width="19" height="48" class="y"/>
<g font-size="4" font-weight="bold" class="t"><text x="1205.5" y="312">P458</text><text x="1205.5" y="318">P459</text><text x="1205.5" y="324">P460</text><text x="1205.5" y="330">P461</text><text x="1205.5" y="336">P462</text><text x="1205.5" y="342">P463</text><text x="1205.5" y="348">P464</text><text x="1205.5" y="354">P465</text></g>
<text x="1344.5" y="362.5" font-size="8" class="t" fill="#111">paleis 5</text>
<rect x="1244" y="375" width="54" height="18" class="g"/>
<text x="1271" y="384" font-size="14" class="t" fill="#111">1</text>
<rect x="1298" y="375" width="139" height="18" class="y"/>
<g font-size="4" fill="#555">
<text transform="translate(1302,384) rotate(-90)" class="t">P1177</text><text transform="translate(1308,384) rotate(-90)" class="t">P1178</text><text transform="translate(1314,384) rotate(-90)" class="t">P1179</text><text transform="translate(1320,384) rotate(-90)" class="t">P1180</text><text transform="translate(1326,384) rotate(-90)" class="t">P1181</text><text transform="translate(1332,384) rotate(-90)" class="t">P1182</text><text transform="translate(1338,384) rotate(-90)" class="t">P1183</text><text transform="translate(1344,384) rotate(-90)" class="t">P1184</text><text transform="translate(1350,384) rotate(-90)" class="t">P1185</text><text transform="translate(1356,384) rotate(-90)" class="t">P1186</text><text transform="translate(1362,384) rotate(-90)" class="t">P1187</text><text transform="translate(1368,384) rotate(-90)" class="t">P1188</text><text transform="translate(1374,384) rotate(-90)" class="t">P1189</text><text transform="translate(1380,384) rotate(-90)" class="t">P1190</text><text transform="translate(1386,384) rotate(-90)" class="t">P1191</text><text transform="translate(1392,384) rotate(-90)" class="t">P1192</text><text transform="translate(1398,384) rotate(-90)" class="t">P1193</text><text transform="translate(1404,384) rotate(-90)" class="t">P1194</text><text transform="translate(1410,384) rotate(-90)" class="t">P1195</text><text transform="translate(1416,384) rotate(-90)" class="t">P1196</text><text transform="translate(1422,384) rotate(-90)" class="t">P1197</text><text transform="translate(1428,384) rotate(-90)" class="t">P1198</text><text transform="translate(1434,384) rotate(-90)" class="t">P1199</text>
</g>

<!-- ===== ARROWS ===== -->
<g class="ar">
<polygon points="560,36 568,30 568,33.5 584,33.5 584,30 592,36 584,42 584,38.5 568,38.5 568,42"/>
<polygon points="563,235 571,229 571,232.5 586,232.5 586,229 594,235 586,241 586,237.5 571,237.5 571,241"/>
<polygon points="740.5,163 746.5,171 743,171 743,189 746.5,189 740.5,197 734.5,189 738,189 738,171 734.5,171"/>
<polygon points="887,234 895,228 895,231.5 911,231.5 911,228 919,234 911,240 911,236.5 895,236.5 895,240"/>
<polygon points="887,367 895,361 895,364.5 911,364.5 911,361 919,367 911,373 911,369.5 895,369.5 895,373"/>
<polygon points="739,390 745,398 742,398 742,412 745,412 739,420 733,412 736,412 736,398 733,398"/>
<polygon points="1175,37 1183,31 1183,34.5 1199,34.5 1199,31 1207,37 1199,43 1199,39.5 1183,39.5 1183,43"/>
<polygon points="1175,168 1183,162 1183,165.5 1199,165.5 1199,162 1207,168 1199,174 1199,170.5 1183,170.5 1183,174"/>
</g>

<!-- ===== WALLS ===== -->
<g class="w">
<line x1="2" y1="3" x2="1477" y2="3"/>
<line x1="3" y1="3" x2="3" y2="399"/>
<line x1="290" y1="3" x2="290" y2="160"/>
<line x1="290" y1="177" x2="290" y2="399"/>
<polyline points="278,177 290,177"/>
<line x1="577" y1="3" x2="577" y2="25"/><line x1="567" y1="25" x2="577" y2="25"/>
<polyline points="567,45 577,45 577,82"/>
<line x1="537" y1="82" x2="577" y2="82" stroke-width="2.5"/>
<line x1="577" y1="177" x2="577" y2="222"/><line x1="573" y1="222" x2="577" y2="222"/>
<polyline points="573,249 577,249 577,399"/>
<line x1="903" y1="3" x2="903" y2="223"/>
<line x1="903" y1="243" x2="903" y2="290"/>
<line x1="903" y1="357" x2="903" y2="399"/>
<line x1="1190" y1="3" x2="1190" y2="45"/>
<line x1="1191" y1="243" x2="1191" y2="291"/>
<line x1="1191" y1="309" x2="1191" y2="357"/>
<line x1="1190" y1="375" x2="1190" y2="399"/>
<line x1="1476" y1="3" x2="1476" y2="399"/>
<!-- bottom -->
<polyline points="2,399 256,399 256,440 274,440 274,446 334,446 334,440 351,440 351,399 613,399"/>
<polyline points="274,399 274,423 334,423 334,399"/>
<polyline points="613,399 638,399 638,423 613,423 613,513 721,513"/>
<polyline points="673,399 673,423 721,423"/>
<polyline points="721,399 721,591 756,591 756,399"/>
<polyline points="756,423 804,423 804,399"/>
<polyline points="756,399 864,399"/>
<polyline points="840,399 840,423 864,423 864,513 756,513"/>
<polyline points="864,399 1154,399 1154,440 1173,440 1173,446 1208,446 1208,440 1227,440 1227,399 1443,399"/>
<polyline points="1173,399 1173,423 1208,423 1208,399"/>
<line x1="1460" y1="399" x2="1478" y2="399"/>
</g>
<g fill="none" stroke="#4a7fa0" stroke-width="1">
<path d="M237,399 Q240,425 256,436"/>
<path d="M370,399 Q366,425 351,436"/>
<path d="M669,513 Q672,570 721,588"/>
<path d="M809,513 Q805,570 760,588"/>
<path d="M1135,399 Q1139,425 1154,436"/>
<path d="M1246,399 Q1242,425 1227,436"/>
</g>
<g font-size="6" class="t" fill="#111"><text x="290" y="409">wc</text><text x="698" y="412">wc</text><text x="780" y="412">wc</text><text x="1190" y="414" font-size="4.5" font-weight="bold">toilet</text></g>

<!-- ===== LEGEND ===== -->
<g font-size="4.5" font-weight="bold" fill="#111">
<text x="443" y="423">Paleis 1 : 48m breed x 88m lang</text>
<text x="443" y="429">Paleis 2 : 48m breed x 88m lang</text>
<text x="443" y="435">Paleis 3 : 45m breed x 88m lang</text>
<text x="443" y="441">Paleis 4 : 48m breed x 88m lang</text>
<text x="443" y="447">Paleis 5 : 48m breed x 88m lang</text>
</g>
<rect x="440" y="453" width="13" height="6" class="r"/>
<rect x="440" y="459" width="13" height="6" class="y"/>
<text x="455" y="457.5" font-size="4.5" font-weight="bold" fill="#111">= nooduitgang</text>
<text x="455" y="463.5" font-size="4.5" font-weight="bold" fill="#111">= commerciele standen</text>
<rect x="1388" y="484" width="7" height="7" fill="none" stroke="#217346" stroke-width="1.8"/>
<rect x="1392" y="488" width="5" height="4" fill="#217346"/>
</svg>
</body></html>
